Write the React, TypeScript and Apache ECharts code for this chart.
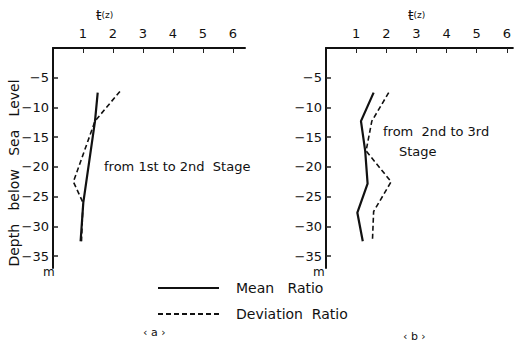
import React, { useEffect, useRef } from "react";
import * as echarts from "echarts";

const xTicks = [1, 2, 3, 4, 5, 6];
const yTicks = [-5, -10, -15, -20, -25, -30, -35];

const meanADepth = [-7.5, -12.3, -26, -32.5];
const meanA = [1.49, 1.4, 1.01, 0.92];
const devADepth = [-7.3, -12.3, -22.5, -26, -32.5];
const devA = [2.23, 1.4, 0.68, 1.0, 0.95];

const meanBDepth = [-7.5, -12.3, -17.3, -22.8, -27.7, -32.5];
const meanB = [1.58, 1.16, 1.3, 1.38, 1.04, 1.22];
const devBDepth = [-7.5, -12.3, -17.3, -22.5, -27.5, -32.5];
const devB = [2.08, 1.52, 1.33, 2.16, 1.58, 1.54];

const MEAN = "Mean   Ratio";
const DEV = "Deviation  Ratio";
const FONT = "DejaVu Sans";

function pairs(xs: number[], ys: number[]) {
  return xs.map((x, i) => [x, ys[i]]);
}

function xAxisFor(gridIndex: number, max: number) {
  return {
    type: "value",
    gridIndex,
    position: "top",
    min: 0,
    max,
    axisLine: { onZero: false, lineStyle: { color: "#111", width: 2 } },
    axisTick: { inside: true, length: 5, customValues: xTicks, lineStyle: { color: "#222", width: 1 } },
    axisLabel: { customValues: xTicks, margin: 8, color: "#111", fontSize: 13, fontFamily: FONT },
    splitLine: { show: false },
  };
}

function yAxisFor(gridIndex: number) {
  return {
    type: "value",
    gridIndex,
    min: -37,
    max: 0,
    axisLine: { onZero: false, lineStyle: { color: "#111", width: 2 } },
    axisTick: { inside: true, length: 5, customValues: yTicks, lineStyle: { color: "#222", width: 1.5 } },
    axisLabel: {
      customValues: yTicks,
      margin: 4,
      color: "#111",
      fontSize: 13,
      fontFamily: FONT,
      formatter: (v: number) => "−" + Math.abs(v),
    },
    splitLine: { show: false },
  };
}

function meanSeries(x: number, y: number, xs: number[], ys: number[]) {
  return {
    name: MEAN,
    type: "line",
    xAxisIndex: x,
    yAxisIndex: y,
    data: pairs(xs, ys),
    symbol: "none",
    color: "#111",
    lineStyle: { color: "#111", width: 2.2 },
  };
}

function devSeries(x: number, y: number, xs: number[], ys: number[]) {
  return {
    name: DEV,
    type: "line",
    xAxisIndex: x,
    yAxisIndex: y,
    data: pairs(xs, ys),
    symbol: "none",
    color: "#111",
    lineStyle: { color: "#111", width: 1.6, type: [5, 3] },
  };
}

const textStyle = (text: string, size = 12) => ({
  text,
  fill: "#111",
  font: `${size}px "${FONT}"`,
});

const tzStyle = {
  text: "{t|ŧ}{z|(z)}",
  rich: {
    t: { fontSize: 14, fontFamily: FONT, fill: "#111" },
    z: { fontSize: 9, fontFamily: FONT, fill: "#111" },
  },
};

export default function App() {
  const ref = useRef<HTMLDivElement>(null);
  useEffect(() => {
    if (!ref.current) return;
    const chart = echarts.init(ref.current, undefined, { renderer: "svg" });
    chart.setOption({
      animation: false,
      backgroundColor: "#fff",
      grid: [
        { left: 53, top: 48, width: 192, height: 220 },
        { left: 326, top: 48, width: 188, height: 220 },
      ],
      xAxis: [xAxisFor(0, 6.4), xAxisFor(1, 6.2)],
      yAxis: [yAxisFor(0), yAxisFor(1)],
      legend: {
        data: [MEAN, DEV],
        orient: "vertical",
        left: 157,
        top: 281,
        padding: 0,
        itemWidth: 61,
        itemHeight: 12,
        itemGap: 12,
        itemStyle: { opacity: 0 },
        textStyle: { color: "#111", fontSize: 14, fontFamily: FONT, padding: [0, 0, 0, 12] },
      },
      series: [
        meanSeries(0, 0, meanA, meanADepth),
        devSeries(0, 0, devA, devADepth),
        meanSeries(1, 1, meanB, meanBDepth),
        devSeries(1, 1, devB, devBDepth),
      ],
      graphic: [
        { type: "text", left: 96, top: 8, style: tzStyle },
        { type: "text", left: 408, top: 8, style: tzStyle },
        {
          type: "text",
          x: 14,
          y: 173,
          rotation: Math.PI / 2,
          style: {
            ...textStyle("Depth   below   Sea   Level", 14),
            align: "center",
            verticalAlign: "middle",
          },
        },
        { type: "text", left: 43, top: 266, style: textStyle("m", 12) },
        { type: "text", left: 313, top: 266, style: textStyle("m", 12) },
        { type: "text", left: 104, top: 160, style: textStyle("from 1st to 2nd  Stage", 13) },
        { type: "text", left: 383, top: 125, style: textStyle("from  2nd to 3rd", 13) },
        { type: "text", left: 399, top: 145, style: textStyle("Stage", 13) },
        { type: "text", left: 143, top: 327, style: textStyle("‹ a ›", 11) },
        { type: "text", left: 403, top: 331, style: textStyle("‹ b ›", 11) },
      ],
    });
    return () => chart.dispose();
  }, []);
  return (
    <div
      ref={ref}
      style={{ position: "fixed", left: 0, top: 0, width: 514, height: 345, background: "#fff" }}
    />
  );
}
